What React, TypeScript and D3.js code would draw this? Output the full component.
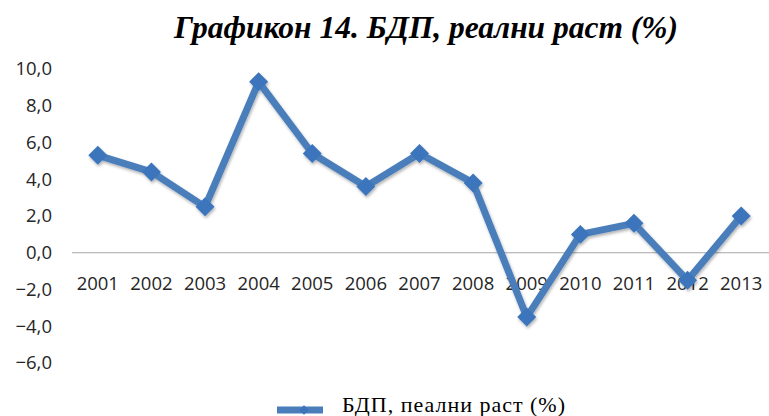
import React, { useRef, useEffect } from 'react';
import * as d3 from 'd3';

const years = ['2001', '2002', '2003', '2004', '2005', '2006', '2007', '2008', '2009', '2010', '2011', '2012', '2013'];
const growth = [5.3, 4.4, 2.5, 9.3, 5.4, 3.6, 5.4, 3.8, -3.5, 1.0, 1.6, -1.5, 2.0];
const yTicks = [10, 8, 6, 4, 2, 0, -2, -4, -6];

const App = () => {
  const ref = useRef<SVGSVGElement | null>(null);

  useEffect(() => {
    if (!ref.current) return;
    const svg = d3.select(ref.current);
    svg.selectAll('*').remove();

    const width = 769;
    const height = 416;
    svg.attr('width', width).attr('height', height);

    const defs = svg.append('defs');
    const f = defs.append('filter').attr('id', 'shadow').attr('x', '-50%').attr('y', '-50%').attr('width', '200%').attr('height', '200%');
    f.append('feDropShadow').attr('dx', 1).attr('dy', 2).attr('stdDeviation', 1.5).attr('flood-color', '#000').attr('flood-opacity', 0.3);

    const x = d3.scaleBand().domain(years).range([71, 768]);
    const y = d3.scaleLinear().domain([-6, 10]).range([363, 69]);
    const cx = (d: string) => (x(d) as number) + x.bandwidth() / 2;

    const sans = 'Open Sans, sans-serif';
    const serif = '"Liberation Serif", "Times New Roman", serif';

    // title
    svg.append('text')
      .attr('x', 426).attr('y', 38)
      .attr('text-anchor', 'middle')
      .attr('font-family', serif)
      .attr('font-weight', 'bold').attr('font-style', 'italic')
      .attr('font-size', 31.5)
      .attr('fill', '#000')
      .text('Графикон 14. БДП, реални раст (%)');

    // y labels
    svg.append('g').selectAll('text')
      .data(yTicks).enter().append('text')
      .attr('x', 52).attr('y', d => y(d))
      .attr('dy', '0.35em')
      .attr('text-anchor', 'end')
      .attr('font-family', sans)
      .attr('font-size', 18.5)
      .attr('fill', '#262626')
      .text(d => d3.format('.1f')(d).replace('.', ','));

    // zero line
    svg.append('line')
      .attr('x1', 72).attr('x2', 769)
      .attr('y1', y(0)).attr('y2', y(0))
      .attr('stroke', '#a6a6a6').attr('stroke-width', 1);

    // category labels
    svg.append('g').selectAll('text')
      .data(years).enter().append('text')
      .attr('x', d => cx(d)).attr('y', 290)
      .attr('text-anchor', 'middle')
      .attr('font-family', sans)
      .attr('font-size', 18.5)
      .attr('fill', '#262626')
      .text(d => d);

    const pts = years.map((yr, i) => ({ yr, v: growth[i] }));
    const line = d3.line<{ yr: string; v: number }>().x(d => cx(d.yr)).y(d => y(d.v));

    const g = svg.append('g').attr('filter', 'url(#shadow)');
    g.append('path')
      .attr('d', line(pts))
      .attr('fill', 'none')
      .attr('stroke', '#4a7ebb')
      .attr('stroke-width', 7)
      .attr('stroke-linejoin', 'round');

    const diamond = d3.symbol().type(d3.symbolDiamond2).size(230);
    g.selectAll('.pt')
      .data(pts).enter().append('path')
      .attr('class', 'pt')
      .attr('transform', d => `translate(${cx(d.yr)},${y(d.v)})`)
      .attr('d', diamond)
      .attr('fill', '#3c74bc');

    // legend
    const lg = svg.append('g');
    lg.append('line')
      .attr('x1', 277).attr('x2', 323).attr('y1', 410).attr('y2', 410)
      .attr('stroke', '#4a7ebb').attr('stroke-width', 7);
    lg.append('path')
      .attr('transform', 'translate(304,410)')
      .attr('d', d3.symbol().type(d3.symbolDiamond2).size(60))
      .attr('fill', '#3c74bc');
    lg.append('text')
      .attr('x', 342).attr('y', 412)
      .attr('font-family', serif)
      .attr('font-size', 22)
      .attr('textLength', 223)
      .attr('lengthAdjust', 'spacing')
      .attr('fill', '#000')
      .text('БДП, пеални раст (%)');
  }, []);

  return (
    <div>
      <svg ref={ref} style={{ position: 'absolute', left: 0, top: 0 }} />
    </div>
  );
};

export default App;
